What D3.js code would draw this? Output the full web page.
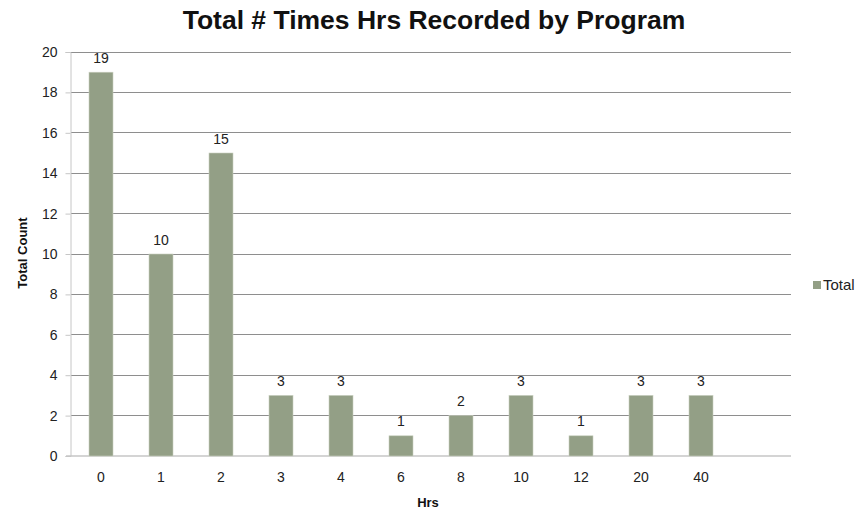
<!DOCTYPE html>
<html><head><meta charset="utf-8">
<script src="https://cdn.jsdelivr.net/npm/d3@7/dist/d3.min.js"></script>
<style>body{margin:0;background:#fff}svg{font-family:"Liberation Sans",Arial,sans-serif}</style>
</head><body><svg id="c" width="866" height="510"></svg>
<script>
const categories = ["0","1","2","3","4","6","8","10","12","20","40"];
const totals = [19,10,15,3,3,1,2,3,1,3,3];
const yTicks = [0,2,4,6,8,10,12,14,16,18,20];

(function(){
const svg = d3.select("#c");
const pL = 71, pR = 791, pT = 52, pB = 456;
const x = d3.scaleBand().domain(categories).range([pL, pL + 60*categories.length]).paddingInner(0.6).paddingOuter(0.3);
const y = d3.scaleLinear().domain([0,20]).range([pB, pT]);

svg.append("text").attr("x",434).attr("y",29).attr("text-anchor","middle")
  .attr("font-size",26.5).attr("font-weight","bold").attr("fill","#111").text("Total # Times Hrs Recorded by Program");

svg.append("g").selectAll("line").data(yTicks.filter(d=>d>0)).join("line")
  .attr("x1",pL).attr("x2",pR).attr("y1",d=>y(d)).attr("y2",d=>y(d))
  .attr("stroke","#8e8e8e").attr("stroke-width",1).attr("shape-rendering","crispEdges");

const ya = svg.append("g").attr("transform",`translate(${pL-0.5},0)`)
  .call(d3.axisLeft(y).tickValues(yTicks).tickSize(5).tickPadding(8));
ya.select(".domain").attr("stroke","#c6c6c6");
ya.selectAll(".tick line").attr("stroke","#c6c6c6");
ya.selectAll("text").attr("font-size",14).attr("fill","#222").attr("font-family","Liberation Sans, Arial, sans-serif");

svg.append("line").attr("x1",pL-5).attr("x2",pR).attr("y1",pB).attr("y2",pB)
  .attr("stroke","#c6c6c6").attr("stroke-width",1.5);

svg.append("g").selectAll("rect").data(totals).join("rect")
  .attr("x",(d,i)=>x(categories[i])).attr("width",x.bandwidth())
  .attr("y",d=>y(d)).attr("height",d=>pB-y(d))
  .attr("fill","#939f86").attr("stroke","#c9d0c0").attr("stroke-width",0.6);

svg.append("g").selectAll("text").data(totals).join("text")
  .attr("x",(d,i)=>x(categories[i])+x.bandwidth()/2).attr("y",d=>y(d)-9.5)
  .attr("text-anchor","middle").attr("font-size",14).attr("fill","#222").text(d=>d);

const xa = svg.append("g").attr("transform",`translate(0,${pB})`)
  .call(d3.axisBottom(x).tickSize(0).tickPadding(16));
xa.select(".domain").remove();
xa.selectAll("text").attr("font-size",14).attr("fill","#222").attr("font-family","Liberation Sans, Arial, sans-serif");

svg.append("text").attr("x",428).attr("y",507).attr("text-anchor","middle")
  .attr("font-size",13).attr("font-weight","bold").attr("fill","#111").text("Hrs");
svg.append("text").attr("transform","translate(27,253) rotate(-90)").attr("text-anchor","middle")
  .attr("font-size",13).attr("font-weight","bold").attr("fill","#111").text("Total Count");

svg.append("rect").attr("x",813).attr("y",281).attr("width",8).attr("height",8).attr("fill","#939f86");
svg.append("text").attr("x",823).attr("y",290).attr("font-size",15).attr("fill","#222").text("Total");
})();
</script></body></html>
